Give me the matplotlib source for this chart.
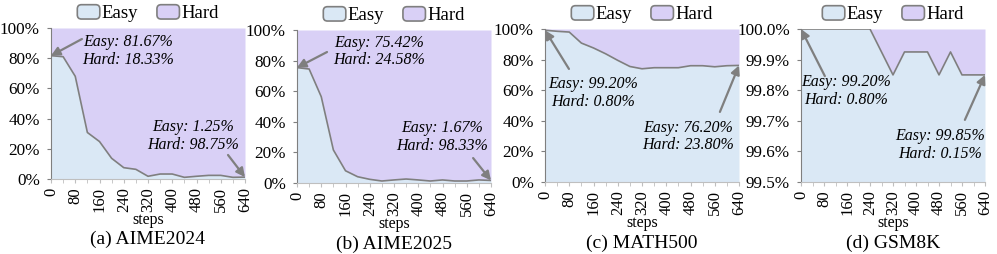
import numpy as np
import matplotlib
matplotlib.use("Agg")
import matplotlib.pyplot as plt
from matplotlib.patches import Patch, FancyBboxPatch
from matplotlib.legend_handler import HandlerPatch
from matplotlib.ticker import MultipleLocator, FuncFormatter

plt.rcParams['font.family'] = ['Liberation Serif', 'DejaVu Serif']

steps = [0, 40, 80, 120, 160, 200, 240, 280, 320, 360, 400, 440, 480, 520, 560, 600, 640]

easy_aime24 = [81.67, 81.0, 68.0, 30.8, 24.8, 13.7, 7.5, 6.4, 1.8, 3.3, 3.3, 1.1, 1.8, 2.4, 2.4, 1.1, 1.25]
easy_aime25 = [75.42, 74.5, 56.4, 21.6, 8.0, 4.1, 2.4, 1.3, 2.0, 2.6, 2.0, 1.3, 2.0, 1.3, 1.3, 2.0, 1.67]
easy_math500 = [99.2, 98.5, 98.0, 90.8, 87.6, 83.8, 79.5, 75.5, 74.0, 74.7, 74.7, 74.7, 76.0, 76.0, 75.3, 76.0, 76.2]
easy_gsm8k = [100.0, 100.0, 100.0, 100.0, 100.0, 100.0, 100.0, 99.925, 99.85, 99.925, 99.925, 99.925,
              99.85, 99.925, 99.85, 99.85, 99.85]

titles = ["(a) AIME2024", "(b) AIME2025", "(c) MATH500", "(d) GSM8K"]
easy_all = [easy_aime24, easy_aime25, easy_math500, easy_gsm8k]

# (text, arrow head point, arrow tail, text centre) in data coords
notes = [
    [("Easy: 81.67%\nHard: 18.33%", (0, 81.67), (102, 92.7), (254, 85)),
     ("Easy: 1.25%\nHard: 98.75%", (640, 1.25), (584, 15.9), (468, 28.5))],
    [("Easy: 75.42%\nHard: 24.58%", (0, 75.42), (99, 85.6), (270, 86)),
     ("Easy: 1.67%\nHard: 98.33%", (640, 1.67), (581, 16.3), (478, 30))],
    [("Easy: 99.20%\nHard: 0.80%", (0, 99.2), (79, 73.9), (158, 58)),
     ("Easy: 76.20%\nHard: 23.80%", (640, 76.2), (577, 45.8), (472, 29.7))],
    [("Easy: 99.20%\nHard: 0.80%", (0, 100.0), (83, 99.846), (157, 99.797)),
     ("Easy: 99.85%\nHard: 0.15%", (640, 99.85), (570, 99.703), (483, 99.621))],
]

c_easy = "#dae8f5"
c_hard = "#d9d0f6"
c_line = "#7f7f7f"

W, H = 997, 254
boxes = [(51, 245, 28, 179), (297, 491, 30, 183), (545, 739, 29, 182), (801, 985, 29, 182)]


class RoundHandler(HandlerPatch):
    def create_artists(self, legend, orig_handle, xdescent, ydescent,
                       width, height, fontsize, trans):
        p = FancyBboxPatch((-xdescent, -ydescent), width, height,
                           boxstyle="round,pad=0,rounding_size=3",
                           fc=orig_handle.get_facecolor(), ec=c_line, lw=1.2,
                           transform=trans)
        return [p]


fig = plt.figure(figsize=(W / 100, H / 100), dpi=100)

for i, (l, r, t, b) in enumerate(boxes):
    ax = fig.add_axes([l / W, (H - b) / H, (r - l) / W, (b - t) / H])
    easy = np.array(easy_all[i])
    if i == 3:
        lo, hi = 99.5, 100.0
    else:
        lo, hi = 0, 100
    ax.fill_between(steps, lo, easy, color=c_easy, lw=0)
    ax.fill_between(steps, easy, hi, color=c_hard, lw=0)
    ax.plot(steps, easy, color=c_line, lw=1.2)
    ax.set_xlim(0, 640)
    ax.set_ylim(lo, hi)

    ax.xaxis.set_major_locator(MultipleLocator(80))
    ax.xaxis.set_minor_locator(MultipleLocator(40))
    if i == 3:
        ax.yaxis.set_major_locator(MultipleLocator(0.1))
        ax.yaxis.set_major_formatter(FuncFormatter(lambda v, p: f"{v:.1f}%"))
    else:
        ax.yaxis.set_major_locator(MultipleLocator(20))
        ax.yaxis.set_major_formatter(FuncFormatter(lambda v, p: f"{v:.0f}%"))
    ax.tick_params(axis='x', which='both', direction='out', length=3, color="#bfbfbf",
                   labelrotation=90, labelsize=12, pad=3)
    ax.tick_params(axis='y', direction='out', length=3, color=c_line, labelsize=12.3, pad=5)
    for s in ['top', 'right']:
        ax.spines[s].set_visible(False)
    ax.spines['left'].set_color(c_line)
    ax.spines['bottom'].set_color("#bfbfbf")

    for txt, pt, tail, cen in notes[i]:
        ax.annotate("", xy=pt, xytext=tail,
                    arrowprops=dict(arrowstyle='-|>', color=c_line, lw=1.6,
                                    mutation_scale=13, shrinkA=0, shrinkB=0),
                    annotation_clip=False, zorder=5)
        ax.text(cen[0], cen[1], txt, ha='center', va='center', style='italic',
                fontsize=11.5, linespacing=1.15, zorder=6)

    ax.text(0.5, -0.27, "steps", transform=ax.transAxes, ha='center', va='center', fontsize=11.5)
    ax.text(0.5, -0.40, titles[i], transform=ax.transAxes, ha='center', va='center', fontsize=14)

    handles = [Patch(facecolor=c_easy, label="Easy"), Patch(facecolor=c_hard, label="Hard")]
    ax.legend(handles=handles, loc='lower center', bbox_to_anchor=(0.5, 1.0), ncol=2,
              frameon=False, fontsize=13.5, handlelength=1.2, handleheight=0.8,
              handletextpad=0.1, columnspacing=1.0, borderaxespad=0.1, borderpad=0.2,
              handler_map={Patch: RoundHandler()})

fig.savefig("out.png", dpi=100)
